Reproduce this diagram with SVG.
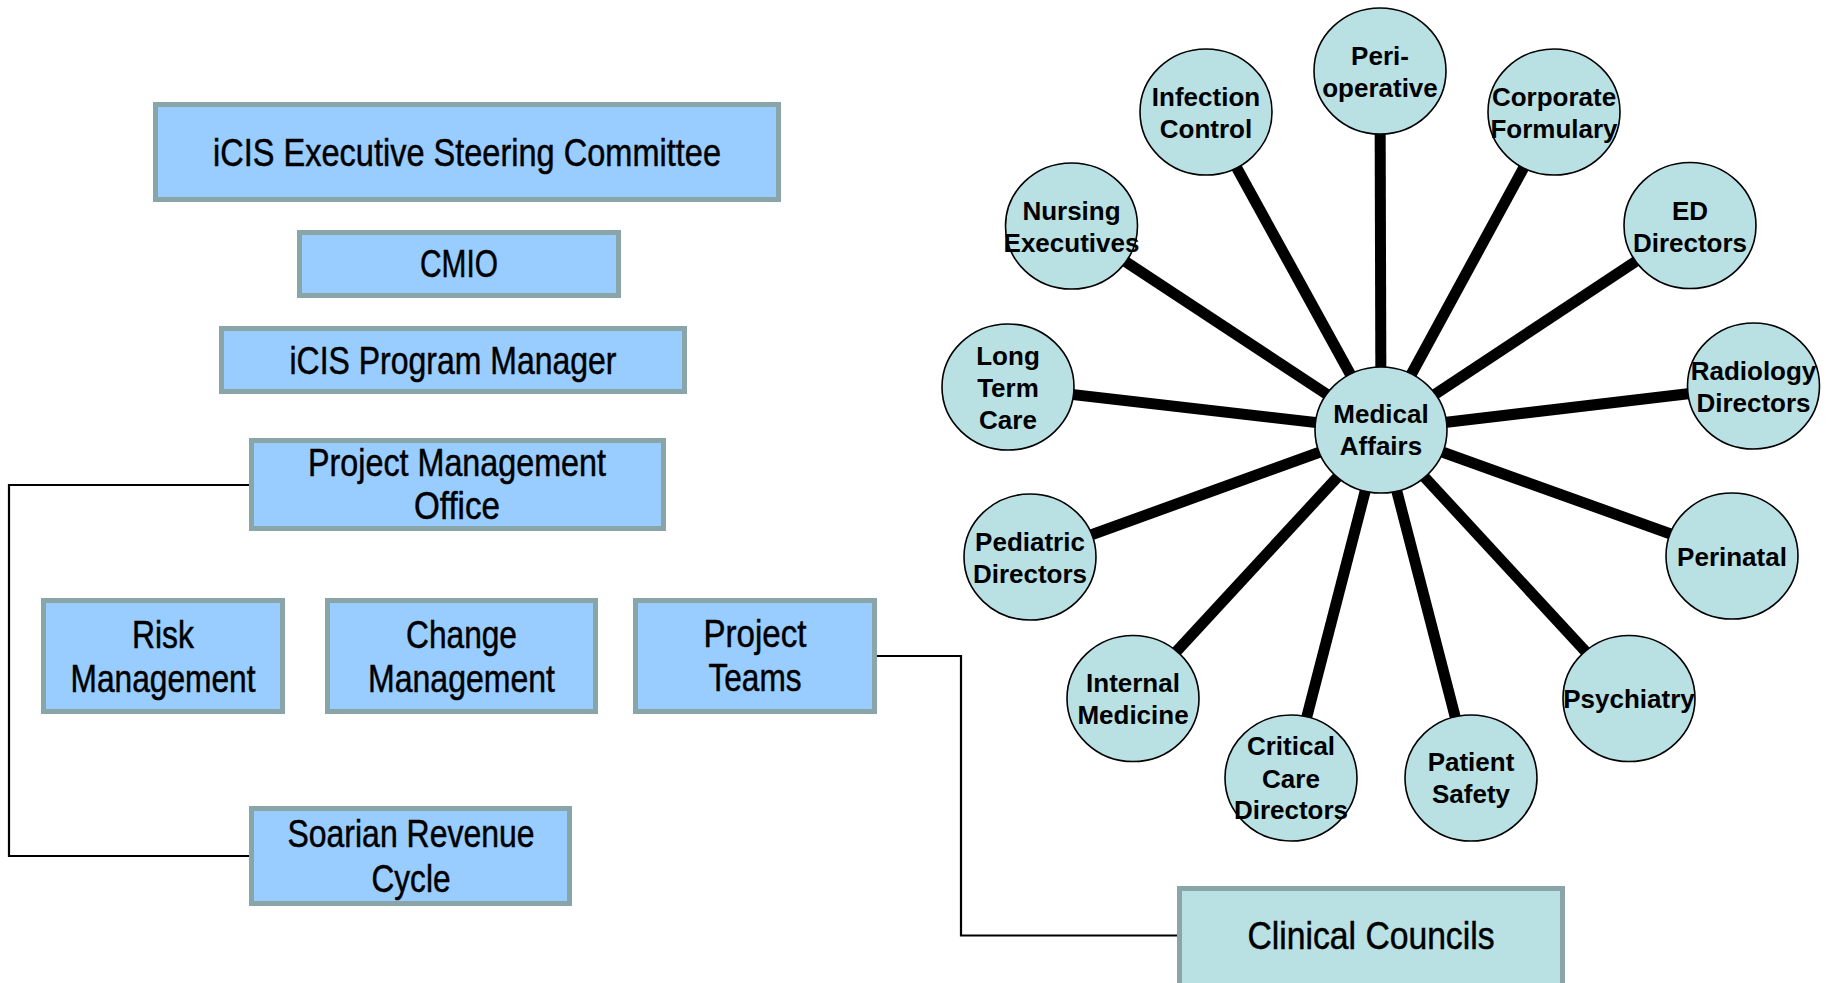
<svg xmlns="http://www.w3.org/2000/svg" width="1831" height="983" viewBox="0 0 1831 983">
<style>
.box{fill:#99ccff;stroke:#8aa5a8;stroke-width:5}
.cbox{fill:#b9e0e3;stroke:#8aa5a8;stroke-width:5}
.bt{font-family:"Liberation Sans",Arial,sans-serif;font-size:38.5px;fill:#000;stroke:#000;stroke-width:0.5;text-anchor:middle}
.circ{fill:#b9e0e3;stroke:#000;stroke-width:1.6}
.ct{font-family:"Liberation Sans",Arial,sans-serif;font-size:26px;font-weight:bold;fill:#000;text-anchor:middle}
.spoke{stroke:#000;stroke-width:11;fill:none}
.conn{stroke:#000;stroke-width:2.2;fill:none}
</style>
<rect width="1831" height="983" fill="#fff"/>
<g id="connectors">
<path class="conn" d="M249 485 H9 V856 H249"/>
<path class="conn" d="M877 656 H961 V935.5 H1177"/>
<g id="spokes">
<line class="spoke" x1="1381" y1="430" x2="1380" y2="71"/>
<line class="spoke" x1="1381" y1="430" x2="1206" y2="112"/>
<line class="spoke" x1="1381" y1="430" x2="1554" y2="112"/>
<line class="spoke" x1="1381" y1="430" x2="1071.5" y2="226"/>
<line class="spoke" x1="1381" y1="430" x2="1690" y2="225.5"/>
<line class="spoke" x1="1381" y1="430" x2="1008" y2="387"/>
<line class="spoke" x1="1381" y1="430" x2="1753.5" y2="386"/>
<line class="spoke" x1="1381" y1="430" x2="1030" y2="557"/>
<line class="spoke" x1="1381" y1="430" x2="1732" y2="556"/>
<line class="spoke" x1="1381" y1="430" x2="1133" y2="698.5"/>
<line class="spoke" x1="1381" y1="430" x2="1629" y2="698.5"/>
<line class="spoke" x1="1381" y1="430" x2="1291" y2="778"/>
<line class="spoke" x1="1381" y1="430" x2="1471" y2="778"/>
</g>
</g>
<g id="exec"><rect class="box" x="155.5" y="104.5" width="623" height="95"/><text class="bt" x="467" y="166" textLength="508" lengthAdjust="spacingAndGlyphs">iCIS Executive Steering Committee</text></g>
<g id="cmio"><rect class="box" x="299.5" y="232.5" width="319" height="63"/><text class="bt" x="459" y="277" textLength="78" lengthAdjust="spacingAndGlyphs">CMIO</text></g>
<g id="pm"><rect class="box" x="221.5" y="328.5" width="463" height="63"/><text class="bt" x="453" y="374" textLength="327" lengthAdjust="spacingAndGlyphs">iCIS Program Manager</text></g>
<g id="pmo"><rect class="box" x="251.5" y="440.5" width="412" height="88"/><text class="bt" x="457" y="476" textLength="298" lengthAdjust="spacingAndGlyphs">Project Management</text><text class="bt" x="457" y="519" textLength="86" lengthAdjust="spacingAndGlyphs">Office</text></g>
<g id="risk"><rect class="box" x="43.5" y="600.5" width="239" height="111"/><text class="bt" x="163" y="647.5" textLength="62" lengthAdjust="spacingAndGlyphs">Risk</text><text class="bt" x="163" y="691.5" textLength="185" lengthAdjust="spacingAndGlyphs">Management</text></g>
<g id="change"><rect class="box" x="327.5" y="600.5" width="268" height="111"/><text class="bt" x="461.5" y="648" textLength="111" lengthAdjust="spacingAndGlyphs">Change</text><text class="bt" x="461.5" y="692" textLength="187" lengthAdjust="spacingAndGlyphs">Management</text></g>
<g id="teams"><rect class="box" x="635.5" y="600.5" width="239" height="111"/><text class="bt" x="755" y="647" textLength="103" lengthAdjust="spacingAndGlyphs">Project</text><text class="bt" x="755" y="691" textLength="93" lengthAdjust="spacingAndGlyphs">Teams</text></g>
<g id="soarian"><rect class="box" x="251.5" y="808.5" width="318" height="95"/><text class="bt" x="411" y="847" textLength="247" lengthAdjust="spacingAndGlyphs">Soarian Revenue</text><text class="bt" x="411" y="891.5" textLength="79" lengthAdjust="spacingAndGlyphs">Cycle</text></g>
<g id="clinical"><rect class="cbox" x="1179.5" y="888.5" width="383" height="104"/><text class="bt" x="1371" y="949" textLength="247" lengthAdjust="spacingAndGlyphs">Clinical Councils</text></g>
<g id="medical"><ellipse class="circ" cx="1381" cy="430" rx="66" ry="63"/><text class="ct" x="1381" y="423">Medical</text><text class="ct" x="1381" y="455">Affairs</text></g>
<g id="peri"><ellipse class="circ" cx="1380" cy="71" rx="66" ry="63"/><text class="ct" x="1380" y="65">Peri-</text><text class="ct" x="1380" y="97">operative</text></g>
<g id="infection"><ellipse class="circ" cx="1206" cy="112" rx="66" ry="63"/><text class="ct" x="1206" y="106">Infection</text><text class="ct" x="1206" y="138">Control</text></g>
<g id="corporate"><ellipse class="circ" cx="1554" cy="112" rx="66" ry="63"/><text class="ct" x="1554" y="106">Corporate</text><text class="ct" x="1554" y="138">Formulary</text></g>
<g id="nursing"><ellipse class="circ" cx="1071.5" cy="226" rx="66" ry="63"/><text class="ct" x="1071.5" y="220">Nursing</text><text class="ct" x="1071.5" y="252">Executives</text></g>
<g id="ed"><ellipse class="circ" cx="1690" cy="225.5" rx="66" ry="63"/><text class="ct" x="1690" y="219.5">ED</text><text class="ct" x="1690" y="251.5">Directors</text></g>
<g id="longterm"><ellipse class="circ" cx="1008" cy="387" rx="66" ry="63"/><text class="ct" x="1008" y="365">Long</text><text class="ct" x="1008" y="397">Term</text><text class="ct" x="1008" y="429">Care</text></g>
<g id="radiology"><ellipse class="circ" cx="1753.5" cy="386" rx="66" ry="63"/><text class="ct" x="1753.5" y="380">Radiology</text><text class="ct" x="1753.5" y="412">Directors</text></g>
<g id="pediatric"><ellipse class="circ" cx="1030" cy="557" rx="66" ry="63"/><text class="ct" x="1030" y="551">Pediatric</text><text class="ct" x="1030" y="583">Directors</text></g>
<g id="perinatal"><ellipse class="circ" cx="1732" cy="556" rx="66" ry="63"/><text class="ct" x="1732" y="565.5">Perinatal</text></g>
<g id="internal"><ellipse class="circ" cx="1133" cy="698.5" rx="66" ry="63"/><text class="ct" x="1133" y="692">Internal</text><text class="ct" x="1133" y="724">Medicine</text></g>
<g id="psychiatry"><ellipse class="circ" cx="1629" cy="698.5" rx="66" ry="63"/><text class="ct" x="1629" y="708">Psychiatry</text></g>
<g id="critical"><ellipse class="circ" cx="1291" cy="778" rx="66" ry="63"/><text class="ct" x="1291" y="755">Critical</text><text class="ct" x="1291" y="787.5">Care</text><text class="ct" x="1291" y="819">Directors</text></g>
<g id="patient"><ellipse class="circ" cx="1471" cy="778" rx="66" ry="63"/><text class="ct" x="1471" y="771">Patient</text><text class="ct" x="1471" y="803">Safety</text></g>
</svg>
